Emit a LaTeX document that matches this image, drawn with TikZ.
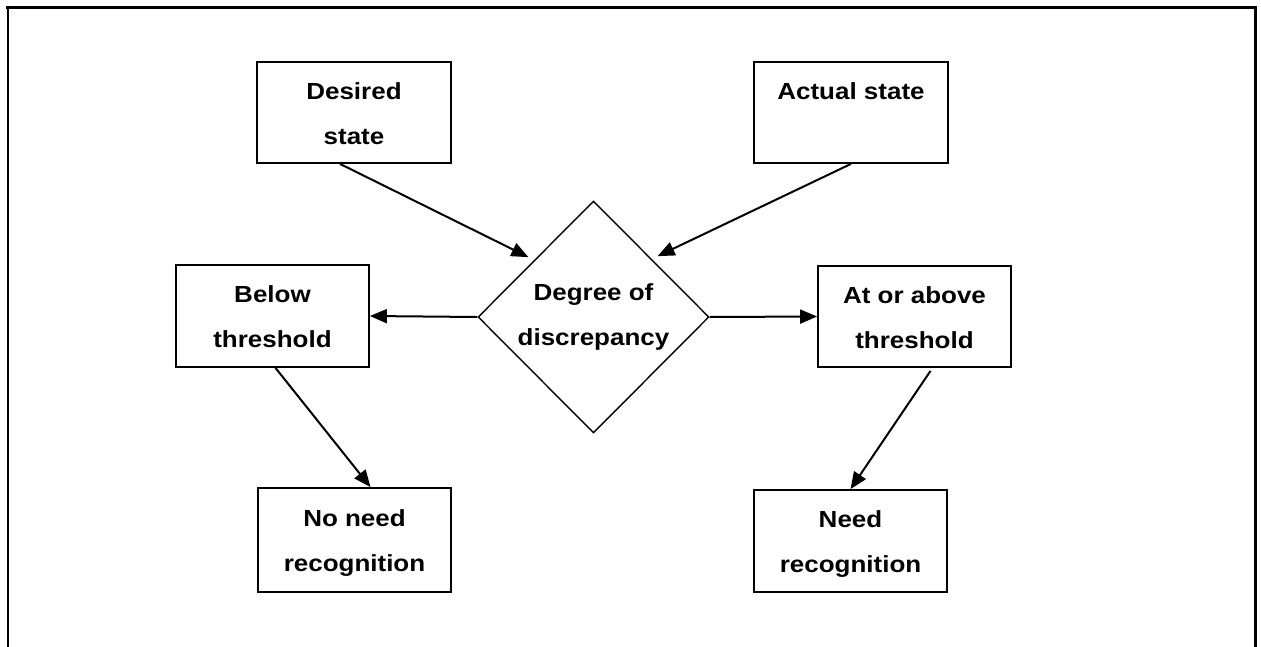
\documentclass[tikz,border=0pt]{standalone}
\usepackage{fontspec}
\setmainfont[FakeStretch=1.115]{Liberation Sans}
\usetikzlibrary{shapes.geometric,arrows.meta,calc}
\newcommand\flowfont{\fontsize{23.3}{45}\selectfont\bfseries}
\begin{document}
\begin{tikzpicture}[x=1pt,y=-1pt,
  box/.style={draw,line width=1.8pt,minimum width=193pt,minimum height=101pt,
    inner sep=0pt,align=center,font=\flowfont},
  decision/.style={draw,diamond,aspect=1,line width=1.4pt,minimum width=231pt,
    minimum height=232pt,inner sep=0pt,align=center,font=\flowfont},
  flow/.style={line width=2pt,-{Triangle[length=17pt,width=14pt]}},
  frame/.style={line cap=rect}]
\useasboundingbox (0,0) rectangle (1261,646);

% open frame around the chart
\draw[frame,line width=2pt] (7.5,646) -- (7.5,7.5);
\draw[frame,line width=2.5pt] (7.5,7.5) -- (1255.5,7.5);
\draw[frame,line width=3pt] (1255.5,7.5) -- (1255.5,646);

% states being compared
\node[box,minimum width=194pt] (desired) at (354,112.5) {\strut Desired\\\strut state};
\node[box,minimum width=194pt] (actual) at (851,112.5) {\strut Actual state\\\strut};

% comparison
\node[decision] (dia) at (593.5,317) {Degree of\\discrepancy};

% outcomes of the comparison
\node[box,minimum height=102pt] (below) at (272.5,316) {\strut Below\\\strut threshold};
\node[box] (above) at (914.5,316.5) {\strut At or above\\\strut threshold};

% results
\node[box,minimum height=104pt] (noneed) at (354.5,540) {\strut No need\\\strut recognition};
\node[box,minimum height=102pt] (need) at (850.5,541) {\strut Need\\\strut recognition};

% connectors
\draw[flow] ([xshift=-14pt]desired.south) -- ($(dia.north west)+(-7,-1.5)$);
\draw[flow] (actual.south) -- ($(dia.north east)+(6,-2.5)$);
\draw[flow] (dia.west) -- (below.east);
\draw[flow] (dia.east) -- (above.west);
\draw[flow] ([xshift=3pt]below.south) -- ([xshift=16pt]noneed.north);
\draw[flow] ([xshift=16pt,yshift=-3pt]above.south) -- (need.north);
\end{tikzpicture}
\end{document}
